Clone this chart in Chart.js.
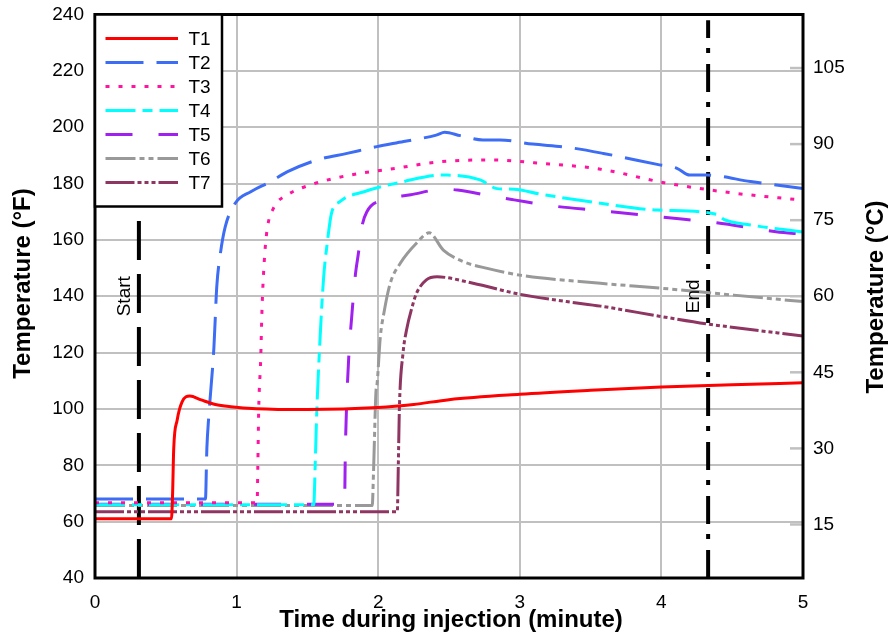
<!DOCTYPE html>
<html><head><meta charset="utf-8">
<script src="https://cdn.jsdelivr.net/npm/chart.js@4.4.1/dist/chart.umd.min.js"></script>
<style>html,body{margin:0;padding:0;background:#fff}#wrap{width:893px;height:644px;position:relative}</style>
</head><body><div id="wrap"><canvas id="c" width="893" height="644"></canvas></div>
<script>
// ---------- data ----------
const SERIES_LABELS = ['T1','T2','T3','T4','T5','T6','T7'];

const T1_TIME = [0,0.54,0.548,0.556,0.58,0.615,0.67,0.75,0.85,0.96,1.14,1.5,2.0,2.25,2.5,3.0,3.5,4.0,4.5,5.0];
const T1_TEMP = [61,61,70,86,96,102.5,104.6,103.2,101.6,100.8,100.1,99.8,100.5,101.6,103.3,105.2,106.6,107.8,108.6,109.3];

const T2_TIME = [0,0.78,0.79,0.803,0.84,0.86,0.886,0.92,0.99,1.10,1.24,1.36,1.57,1.78,1.99,2.18,2.41,2.47,2.58,2.74,2.86,3.09,3.33,3.59,3.97,4.11,4.20,4.32,4.63,5.0];
const T2_TEMP = [68,68,86,97,122,143.4,155.3,164.7,173,177.1,180.7,184.2,188.4,190.7,193.1,194.9,197.2,198.2,197,195.5,195.5,194,192.9,190.7,186.8,185.4,183,183,180.7,178.2];

const T3_TIME = [0,1.145,1.15,1.156,1.17,1.18,1.196,1.215,1.26,1.36,1.52,1.80,2.085,2.45,2.81,3.10,3.57,4.01,4.48,5.0];
const T3_TEMP = [66.7,66.7,80,99.6,117.4,136.3,152.9,163.5,171.2,176,179.5,183,185.1,187.8,188.4,187.4,185.1,180.4,176.8,174.1];

const T4_TIME = [0,1.545,1.555,1.565,1.59,1.615,1.64,1.67,1.73,1.90,2.18,2.44,2.49,2.72,2.84,2.96,3.14,3.57,3.97,4.39,4.44,4.63,5.0];
const T4_TEMP = [66,66,80,97.2,125.6,146.9,158.8,169.4,173.6,177.1,180.7,183,183,181.3,178.2,178,176.3,173,170.6,169.1,167.3,165.3,162.8];

const T5_TIME = [0,1.762,1.768,1.775,1.791,1.815,1.84,1.86,1.885,1.92,2.04,2.23,2.46,2.56,2.79,2.96,3.24,3.57,4.16,4.39,4.81,5.0];
const T5_TEMP = [66.2,66.2,85,98.5,117.4,134,148.1,155.2,164.7,170,174.2,176,178,177.7,175.6,174.2,172,170.4,167.3,166.1,162.9,162];

const T6_TIME = [0,1.958,1.967,1.985,1.99,2.015,2.04,2.085,2.156,2.27,2.36,2.46,2.60,2.77,3.0,3.57,4.01,4.51,5.0];
const T6_TEMP = [65.7,65.7,77.7,106.7,108,125.6,134,144.6,151.7,158.8,162.5,156.4,152.3,149.9,147.5,144.6,142.8,140.4,138.1];

const T7_TIME = [0,2.135,2.142,2.15,2.175,2.20,2.24,2.27,2.34,2.415,2.67,3.0,3.33,3.57,4.01,4.32,5.0];
const T7_TEMP = [63.5,63.5,80,100.8,119.7,128,136.3,141,145.8,146.9,144.6,140.7,138.1,136.5,132.7,130.2,125.9];

const X_TICKS = [0,1,2,3,4,5];
const F_TICKS = [40,60,80,100,120,140,160,180,200,220,240];
const C_TICKS = [15,30,45,60,75,90,105];

const START_TIME = 0.31;
const END_TIME = 4.33;
const START_RANGE = [40,240];
const END_RANGE = [40,238];

const X_TITLE = 'Time during injection (minute)';
const YF_TITLE = 'Temperature (°F)';
const YC_TITLE = 'Temperature (°C)';

// ---------- styles ----------
const FONT = "'Liberation Sans', Arial, Helvetica, sans-serif";
const COLORS = ['#ff0000','#3d6cf5','#ff14a0','#00ffff','#a020f0','#999999','#8e3562'];
const DASHES = [[], [38,13], [4,9], [30,7,10,7], [27,26], [30,4,5,4,5,4], [29,3,4,3,4,3,4,3]];
const TIMES = [T1_TIME,T2_TIME,T3_TIME,T4_TIME,T5_TIME,T6_TIME,T7_TIME];
const TEMPS = [T1_TEMP,T2_TEMP,T3_TEMP,T4_TEMP,T5_TEMP,T6_TEMP,T7_TEMP];

const fToC = f => (f - 32) * 5 / 9;

const datasets = SERIES_LABELS.map((lab, i) => ({
  label: lab,
  data: TIMES[i].map((t, j) => ({x: t, y: TEMPS[i][j]})),
  borderColor: COLORS[i],
  borderWidth: 3,
  borderDash: DASHES[i],
  pointRadius: 0,
  fill: false,
  cubicInterpolationMode: 'monotone',
  isSeries: true
}));
datasets.push({
  label: 'Start', isSeries: false,
  data: [{x: START_TIME, y: START_RANGE[0]}, {x: START_TIME, y: START_RANGE[1]}],
  borderColor: '#000', borderWidth: 4, borderDash: [39,14], pointRadius: 0
});
datasets.push({
  label: 'End', isSeries: false,
  data: [{x: END_TIME, y: END_RANGE[0]}, {x: END_TIME, y: END_RANGE[1]}],
  borderColor: '#000', borderWidth: 4, borderDash: [28,11,5,10], pointRadius: 0
});

const decor = {
  id: 'decor',
  beforeDatasetsDraw(chart) {
    const {ctx, chartArea: a} = chart;
    const y2 = chart.scales.y2;
    ctx.save();
    ctx.strokeStyle = '#c0c0c0';
    ctx.lineWidth = 2.5;
    C_TICKS.forEach(v => {
      const py = y2.getPixelForValue(v);
      ctx.beginPath(); ctx.moveTo(a.right - 13, py); ctx.lineTo(a.right, py); ctx.stroke();
    });
    ctx.restore();
  },
  afterDatasetsDraw(chart) {
    const {ctx, chartArea: a} = chart;
    const xs = chart.scales.x, ys = chart.scales.y;
    ctx.save();
    // frame
    ctx.strokeStyle = '#000'; ctx.lineWidth = 3;
    ctx.strokeRect(a.left, a.top, a.right - a.left, a.bottom - a.top);
    // legend
    const lx = a.left, ly = a.top, lw = 127, lh = 192;
    ctx.fillStyle = '#fff';
    ctx.fillRect(lx, ly, lw, lh);
    ctx.lineWidth = 2.5; ctx.strokeStyle = '#000';
    ctx.strokeRect(lx, ly, lw, lh);
    ctx.font = '19px ' + FONT;
    ctx.textBaseline = 'middle'; ctx.textAlign = 'left';
    chart.data.datasets.filter(d => d.isSeries).forEach((d, i) => {
      const yy = ly + 24 + 24 * i;
      ctx.strokeStyle = d.borderColor; ctx.lineWidth = 3;
      ctx.setLineDash(d.borderDash || []);
      ctx.beginPath(); ctx.moveTo(lx + 10.5, yy); ctx.lineTo(lx + 83, yy); ctx.stroke();
      ctx.setLineDash([]);
      ctx.fillStyle = '#000';
      ctx.fillText(d.label, lx + 93.5, yy + 1);
    });
    // start / end labels
    ctx.fillStyle = '#000';
    ctx.font = '19px ' + FONT;
    ctx.textAlign = 'center'; ctx.textBaseline = 'middle';
    [[START_TIME, 'Start'], [END_TIME, 'End']].forEach(([t, s]) => {
      ctx.save();
      ctx.translate(xs.getPixelForValue(t) - 14, ys.getPixelForValue(140));
      ctx.rotate(-Math.PI / 2);
      ctx.fillText(s, 0, 0);
      ctx.restore();
    });
    // axis titles
    ctx.font = 'bold 24px ' + FONT;
    ctx.fillText(X_TITLE, 451, 620);
    ctx.save(); ctx.translate(23, 283.5); ctx.rotate(-Math.PI / 2); ctx.fillText(YF_TITLE, 0, 0); ctx.restore();
    ctx.save(); ctx.translate(876, 297); ctx.rotate(-Math.PI / 2); ctx.fillText(YC_TITLE, 0, 0); ctx.restore();
    ctx.restore();
  }
};

Chart.defaults.font.family = FONT;
Chart.defaults.color = '#000';

const noPad = s => { s.paddingTop = 0; s.paddingBottom = 0; s.paddingLeft = 0; s.paddingRight = 0; };

new Chart(document.getElementById('c'), {
  type: 'line',
  data: {datasets},
  plugins: [decor],
  options: {
    responsive: false,
    animation: false,
    devicePixelRatio: 1,
    layout: {padding: {top: 14.5, left: 0, right: 0, bottom: 0}},
    plugins: {legend: {display: false}, tooltip: {enabled: false}},
    elements: {line: {borderCapStyle: 'butt'}},
    scales: {
      x: {
        type: 'linear', min: X_TICKS[0], max: X_TICKS[X_TICKS.length - 1],
        afterBuildTicks: s => { s.ticks = X_TICKS.map(v => ({value: v})); },
        ticks: {font: {size: 19}, color: '#000', padding: 13, maxRotation: 0, callback: v => String(v)},
        grid: {color: '#c0c0c0', lineWidth: 2, drawTicks: false},
        border: {display: false},
        afterFit: s => { s.height = 66; noPad(s); }
      },
      y: {
        position: 'left', min: F_TICKS[0], max: F_TICKS[F_TICKS.length - 1],
        afterBuildTicks: s => { s.ticks = F_TICKS.map(v => ({value: v})); },
        ticks: {font: {size: 19}, color: '#000', padding: 11, callback: v => String(v)},
        grid: {color: '#c0c0c0', lineWidth: 2, drawTicks: false},
        border: {display: false},
        afterFit: s => { s.width = 95; noPad(s); }
      },
      y2: {
        position: 'right', min: fToC(F_TICKS[0]), max: fToC(F_TICKS[F_TICKS.length - 1]),
        afterBuildTicks: s => { s.ticks = C_TICKS.map(v => ({value: v})); },
        ticks: {font: {size: 19}, color: '#000', padding: 10, callback: v => String(v)},
        grid: {display: false, drawTicks: false},
        border: {display: false},
        afterFit: s => { s.width = 90; noPad(s); }
      }
    }
  }
});
</script></body></html>
